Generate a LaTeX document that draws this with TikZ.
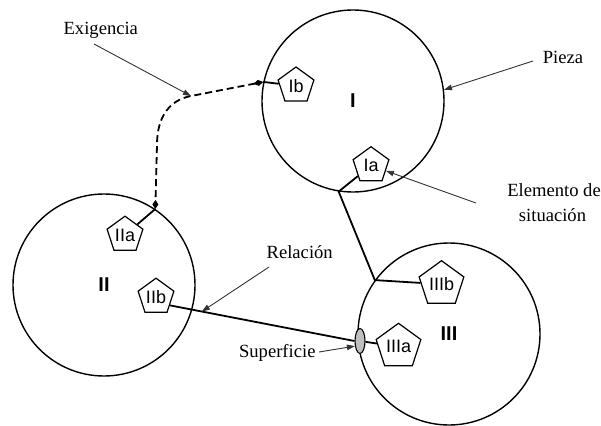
\documentclass[tikz,border=0pt]{standalone}
\usepackage{fontspec}
\setmainfont{Liberation Serif}
\newfontfamily\arialfont{Liberation Sans}
\usetikzlibrary{arrows.meta,shapes.geometric}

\begin{document}
\begin{tikzpicture}[x=1pt,y=-1pt,
  piece/.style={circle,draw,line width=1.4pt,minimum size=182pt,inner sep=0pt,
    font=\arialfont\bfseries\fontsize{20}{24}\selectfont},
  elem/.style={regular polygon,regular polygon sides=5,draw,fill=white,line width=1.2pt,
    inner sep=0pt,minimum size=37.6pt,font=\arialfont\fontsize{18}{20}\selectfont},
  bigelem/.style={elem,minimum size=47pt},
  surf/.style={ellipse,draw,fill=gray!50,line width=1.1pt,minimum width=10pt,
    minimum height=25pt,inner sep=0pt},
  link/.style={line width=1.8pt},
  req/.style={link,dash pattern=on 7pt off 4pt,
    {Diamond[length=10pt,width=6pt]}-{Diamond[length=9pt,width=6pt]}},
  callout/.style={draw=black!80,line width=0.9pt,-{Triangle[length=8pt,width=5.5pt]}},
  note/.style={font=\fontsize{18.6}{22}\selectfont,anchor=base,inner sep=0pt},
]
\useasboundingbox (0,0) rectangle (601,425);

% parts
\node[piece] (pI)   at (353,101) {I};
\node[piece] (pII)  at (104,285) {II};
\node[piece] (pIII) at (449,334) {III};

% locating elements
\node[elem] (Ib)  at (296,85.8)  {Ib};
\node[elem] (Ia)  at (371,165.5) {Ia};
\node[elem] (IIa) at (125,235)   {IIa};
\node[elem] (IIb) at (156,297)   {IIb};
\node[bigelem] (IIIb) at (441.5,284.2) {IIIb};
\node[bigelem] (IIIa) at (398.5,346.8) {IIIa};

% contact surface
\node[surf] (ell) at (360,341) {};

% points on the part outlines
\coordinate (c1) at (pI.168);
\coordinate (c2) at (pII.56);
\coordinate (j1) at (pI.261);
\coordinate (j3) at (pIII.144);
\coordinate (exg) at (191,96);

% requirement between I and II
\draw[link] (c1) -- (Ib);
\draw[link] (c2) -- (IIa);
\draw[req] (c1) -- (exg) .. controls (170,100) and (157,116) .. (157,145) -- (c2);

% relations
\draw[link] (Ia) -- (j1) -- (j3) -- (IIIb);
\draw[link] (IIb.-31) -- coordinate[pos=0.173] (relpt) (ell.west);
\draw[link] (ell) -- (IIIa);

% labels
\node[note] (exigencia) at (100.8,34.3) {Exigencia};
\node[note] (pieza)     at (563,63.5)   {Pieza};
\node[note] (elem1)     at (554,196.7)  {Elemento de};
\node[note] (elem2)     at (552.5,221.7) {situación};
\node[note] (relacion)  at (299.7,258.3) {Relación};
\node[note] (superf)    at (277.3,357.7) {Superficie};

% callout arrows
\coordinate (exgfrom) at (94,44);
\coordinate (pzfrom)  at (533,61);
\coordinate (elfrom)  at (476,203);
\coordinate (relfrom) at (269,267);
\coordinate (supfrom) at (319,352);
\draw[callout] (exgfrom) -- (exg);
\draw[callout] (pzfrom) -- (pI.7);
\draw[callout] (elfrom) -- (Ia);
\draw[callout] (relfrom) -- (relpt);
\draw[callout] (supfrom) -- (ell.225);
\end{tikzpicture}
\end{document}
